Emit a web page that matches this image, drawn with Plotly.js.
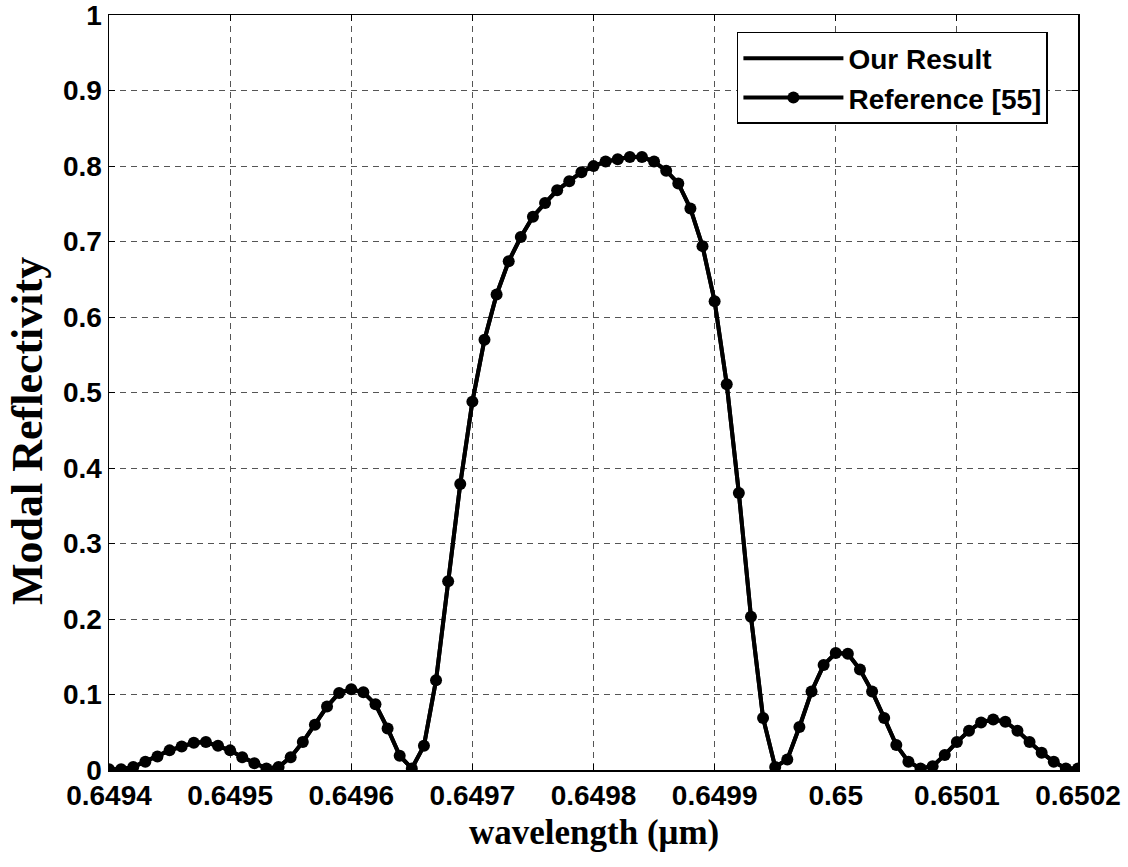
<!DOCTYPE html>
<html>
<head>
<meta charset="utf-8">
<script src="https://cdn.plot.ly/plotly-3.0.1.min.js"></script>
<style>html,body{margin:0;padding:0;background:#fff;}#chart{width:1128px;height:867px;}</style>
</head>
<body>
<div id="chart"></div>
<script>
// wavelength grid (µm): 0.6494 to 0.6502 in 81 samples
var wavelengthStart = 0.6494;
var wavelengthStep = 0.00001;
var reflectivity = [
  0.001, 0.001, 0.004, 0.011, 0.018, 0.026, 0.031, 0.036, 0.037, 0.032,
  0.026, 0.017, 0.009, 0.002, 0.004, 0.017, 0.037, 0.060, 0.084, 0.102,
  0.107, 0.103, 0.087, 0.055, 0.019, 0.002, 0.032, 0.119, 0.250, 0.379,
  0.488, 0.570, 0.630, 0.674, 0.706, 0.733, 0.751, 0.768, 0.780, 0.792,
  0.800, 0.806, 0.809, 0.812, 0.812, 0.806, 0.794, 0.777, 0.744, 0.694,
  0.621, 0.511, 0.367, 0.203, 0.069, 0.004, 0.014, 0.057, 0.104, 0.139,
  0.155, 0.154, 0.133, 0.104, 0.069, 0.033, 0.011, 0.002, 0.005, 0.020,
  0.037, 0.052, 0.063, 0.067, 0.064, 0.052, 0.037, 0.023, 0.011, 0.002,
  0.002
];
var ourResult = reflectivity.slice();
var wavelength = reflectivity.map(function(_, i){ return +(wavelengthStart + i*wavelengthStep).toFixed(5); });

var xTickVals = [0.6494, 0.6495, 0.6496, 0.6497, 0.6498, 0.6499, 0.65, 0.6501, 0.6502];
var xTickText = ['0.6494', '0.6495', '0.6496', '0.6497', '0.6498', '0.6499', '0.65', '0.6501', '0.6502'];
var yTickVals = [0, 0.1, 0.2, 0.3, 0.4, 0.5, 0.6, 0.7, 0.8, 0.9, 1];
var yTickText = ['0', '0.1', '0.2', '0.3', '0.4', '0.5', '0.6', '0.7', '0.8', '0.9', '1'];

var tickFont = {family: 'Liberation Sans, Arial, sans-serif', size: 28, color: '#000', weight: 'bold'};
var titleFont = {family: 'Liberation Serif, Times New Roman, serif', color: '#000', weight: 'bold'};

var traces = [
  {
    x: wavelength, y: ourResult, type: 'scatter', mode: 'lines', name: 'Our Result',
    line: {color: '#000', width: 4}
  },
  {
    x: wavelength, y: reflectivity, type: 'scatter', mode: 'lines+markers', name: 'Reference [55]',
    line: {color: '#000', width: 4},
    marker: {color: '#000', size: 12, symbol: 'circle'}
  }
];

var axisCommon = {
  showline: true, linecolor: '#000', linewidth: 1.5, mirror: 'ticks',
  ticks: 'inside', ticklen: 6, tickcolor: '#000', tickwidth: 1,
  showgrid: true, gridcolor: '#555', gridwidth: 1, griddash: '6px,5px',
  zeroline: false, tickfont: tickFont, fixedrange: true,
  ticklabeloverflow: 'allow'
};

var layout = {
  width: 1128, height: 867,
  margin: {l: 109, r: 50, t: 15, b: 97},
  paper_bgcolor: '#fff', plot_bgcolor: '#fff',
  showlegend: true,
  xaxis: Object.assign({}, axisCommon, {
    range: [0.6494, 0.6502], tickmode: 'array', tickvals: xTickVals, ticktext: xTickText
  }),
  yaxis: Object.assign({}, axisCommon, {
    range: [0, 1.0002], tickmode: 'array', tickvals: yTickVals, ticktext: yTickText
  }),
  legend: {
    x: 0.648, y: 0.9775, xanchor: 'left', yanchor: 'top',
    bgcolor: '#fff', bordercolor: '#000', borderwidth: 1.5,
    font: {family: 'Liberation Sans, Arial, sans-serif', size: 28, color: '#000', weight: 'bold'},
    itemwidth: 100
  },
  annotations: [
    {
      text: 'wavelength (\u03bcm)', xref: 'paper', yref: 'paper', x: 0.5, y: -0.083,
      xanchor: 'center', yanchor: 'middle', showarrow: false,
      font: Object.assign({}, titleFont, {size: 35})
    },
    {
      text: 'Modal Reflectivity', xref: 'paper', yref: 'paper', x: -0.0846, y: 0.449,
      xanchor: 'center', yanchor: 'middle', showarrow: false, textangle: -90,
      font: Object.assign({}, titleFont, {size: 44})
    }
  ]
};

Plotly.newPlot('chart', traces, layout, {displayModeBar: false, staticPlot: true});
</script>
</body>
</html>
